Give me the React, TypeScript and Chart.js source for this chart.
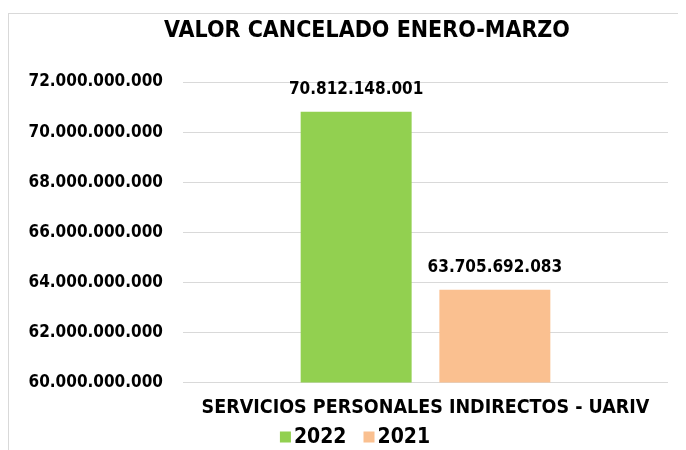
import React, { useEffect, useRef } from "react";
import { Chart, registerables } from "chart.js";

Chart.register(...registerables);

const categories = ["SERVICIOS PERSONALES INDIRECTOS - UARIV"];
const seriesLabels = ["2022", "2021"];
const values2022 = [70812148001];
const values2021 = [63705692083];
const seriesColors = ["#92D050", "#FAC090"];
const titleText = "VALOR CANCELADO ENERO-MARZO";
const yMin = 60000000000;
const yMax = 72000000000;
const yStep = 2000000000;

const FONT = "'DejaVu Sans Condensed', 'DejaVu Sans', sans-serif";

const fmt = (v: number) =>
  Math.round(v)
    .toString()
    .replace(/\B(?=(\d{3})+(?!\d))/g, ".");

const dataLabels = {
  id: "dataLabels",
  afterDatasetsDraw(chart: any) {
    const ctx = chart.ctx;
    ctx.save();
    ctx.font = `bold 17px ${FONT}`;
    ctx.fillStyle = "#000";
    ctx.textAlign = "center";
    ctx.textBaseline = "middle";
    chart.data.datasets.forEach((ds: any, i: number) => {
      const meta = chart.getDatasetMeta(i);
      meta.data.forEach((el: any, j: number) => {
        ctx.fillText(fmt(ds.data[j]), el.x, el.y - 22);
      });
    });
    ctx.restore();
  },
};

const customTitle = {
  id: "customTitle",
  afterDraw(chart: any) {
    const ctx = chart.ctx;
    ctx.save();
    ctx.font = `bold 23px ${FONT}`;
    ctx.fillStyle = "#000";
    ctx.textAlign = "center";
    ctx.textBaseline = "middle";
    ctx.fillText(titleText, 358, 17);
    ctx.restore();
  },
};

const customLegend = {
  id: "customLegend",
  afterDraw(chart: any) {
    const ctx = chart.ctx;
    ctx.save();
    ctx.font = `bold 21px ${FONT}`;
    ctx.textBaseline = "middle";
    ctx.textAlign = "left";
    const box = 11;
    const gap = 3;
    const itemGap = 17;
    const items = chart.data.datasets.map((ds: any) => ({
      label: ds.label,
      color: ds.backgroundColor,
      w: box + gap + ctx.measureText(ds.label).width,
    }));
    const total =
      items.reduce((s: number, it: any) => s + it.w, 0) + itemGap * (items.length - 1);
    const cx = 346;
    const cy = 423;
    let x = cx - total / 2;
    items.forEach((it: any) => {
      ctx.fillStyle = it.color;
      ctx.fillRect(x, cy - box / 2, box, box);
      ctx.fillStyle = "#000";
      ctx.fillText(it.label, x + box + gap, cy + 1);
      x += it.w + itemGap;
    });
    ctx.restore();
  },
};

export default function App() {
  const ref = useRef<HTMLCanvasElement | null>(null);
  useEffect(() => {
    if (!ref.current) return;
    const chart = new Chart(ref.current, {
      type: "bar",
      data: {
        labels: categories,
        datasets: [
          {
            label: seriesLabels[0],
            data: values2022,
            backgroundColor: seriesColors[0],
            categoryPercentage: 0.572,
            barPercentage: 0.8,
          },
          {
            label: seriesLabels[1],
            data: values2021,
            backgroundColor: seriesColors[1],
            categoryPercentage: 0.572,
            barPercentage: 0.8,
          },
        ],
      },
      options: {
        animation: false,
        responsive: false,
        layout: { padding: { left: 19, right: 57, top: 68, bottom: 38 } },
        plugins: {
          title: { display: false },
          legend: { display: false },
          tooltip: { enabled: false },
        },
        scales: {
          x: {
            grid: { display: false },
            border: { display: false },
            ticks: {
              color: "#000",
              padding: 6,
              font: { family: FONT, size: 19.5, weight: "bold" },
            },
          },
          y: {
            min: yMin,
            max: yMax,
            grid: { color: "#d9d9d9", drawTicks: false },
            border: { display: false },
            afterFit: (scale: any) => {
              scale.width = 155;
            },
            ticks: {
              stepSize: yStep,
              color: "#000",
              padding: 20,
              font: { family: FONT, size: 17, weight: "bold" },
              callback: (v: any) => fmt(Number(v)),
            },
          },
        },
      },
      plugins: [dataLabels, customTitle, customLegend],
    });
    return () => chart.destroy();
  }, []);

  return (
    <div
      style={{
        marginTop: 5,
        width: 677,
        height: 436,
        overflow: "hidden",
        borderLeft: "1px solid #d9d9d9",
        borderTop: "1px solid #d9d9d9",
        background: "#fff",
      }}
    >
      <canvas ref={ref} width={716} height={450} style={{ display: "block" }} />
    </div>
  );
}
